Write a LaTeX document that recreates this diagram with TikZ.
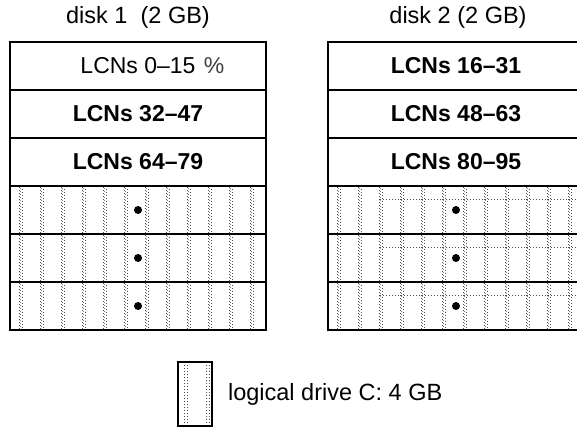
\documentclass[tikz,border=0pt]{standalone}
\usepackage{fontspec}
\setmainfont{Liberation Sans}
\usetikzlibrary{positioning}

\begin{document}
\begin{tikzpicture}[x=1pt, y=1pt,
  lcnrow/.style={draw, line width=1.3pt, minimum width=256pt, minimum height=48pt, inner sep=0pt, outer sep=0pt, font=\fontsize{23}{26}\selectfont\bfseries},
  frame/.style={draw, line width=2pt},
  disktitle/.style={font=\fontsize{23.5}{26}\selectfont},
  stipple/.style={line width=0.7pt, dash pattern=on 0.7pt off 2.3pt, black!70},
  blob/.style={circle, fill, inner sep=0pt, minimum size=8pt},
  legendbox/.style={draw, line width=1.8pt, minimum width=34pt, minimum height=64pt, inner sep=0pt}
]
  \useasboundingbox (0,0) rectangle (577,429);
  \clip (0,0) rectangle (577,429);

  % stippled part (logical drive C:)
  \foreach \x in {19,40,...,250} {
    \draw[stipple] (\x,100) -- (\x,242);
    \draw[stipple] (\x+3,101.5) -- (\x+3,242);
    \draw[stipple, black!50] (\x+1.5,102.5) -- (\x+1.5,242);
  }
  \foreach \x in {337,358,...,577} {
    \draw[stipple] (\x,100) -- (\x,242);
    \draw[stipple] (\x+3,101.5) -- (\x+3,242);
    \draw[stipple, black!50] (\x+1.5,102.5) -- (\x+1.5,242);
  }
  \foreach \y in {230,182,134}
    \draw[stipple] (380,\y) -- (577,\y);

  % disk 1
  \node[disktitle] (title1) at (138,412) {disk 1\ \ (2 GB)};
  \node[lcnrow, font=\fontsize{23}{26}\selectfont] (d1r1) at (138,363) {LCNs 0--15};
  \node[lcnrow, below=0pt of d1r1] (d1r2) {LCNs 32--47};
  \node[lcnrow, below=0pt of d1r2] (d1r3) {LCNs 64--79};
  \node[lcnrow, below=0pt of d1r3] (d1r4) {};
  \node[lcnrow, below=0pt of d1r4] (d1r5) {};
  \node[lcnrow, below=0pt of d1r5] (d1r6) {};
  \draw[frame] (d1r1.north west) rectangle (d1r6.south east);
  \node[font=\fontsize{23}{26}\selectfont, black!75] (pct) at (214,363) {\%};

  % disk 2
  \node[disktitle] (title2) at (458,412) {disk 2 (2 GB)};
  \node[lcnrow] (d2r1) at (456,363) {LCNs 16--31};
  \node[lcnrow, below=0pt of d2r1] (d2r2) {LCNs 48--63};
  \node[lcnrow, below=0pt of d2r2] (d2r3) {LCNs 80--95};
  \node[lcnrow, below=0pt of d2r3] (d2r4) {};
  \node[lcnrow, below=0pt of d2r4] (d2r5) {};
  \node[lcnrow, below=0pt of d2r5] (d2r6) {};
  \draw[frame] (d2r1.north west) rectangle (d2r6.south east);

  % dots
  \foreach \r in {4,5,6} {
    \node[blob] (b1\r) at (d1r\r.center) {};
    \node[blob] (b2\r) at (d2r\r.center) {};
  }

  % legend
  \node[legendbox] (legbox) at (195,35) {};
  \foreach \x in {184,187,206,209}
    \draw[stipple] (\x,6) -- (\x,64);
  \node[disktitle, right=15pt of legbox, inner sep=0pt] (legtext) {logical drive C: 4 GB};
\end{tikzpicture}
\end{document}
